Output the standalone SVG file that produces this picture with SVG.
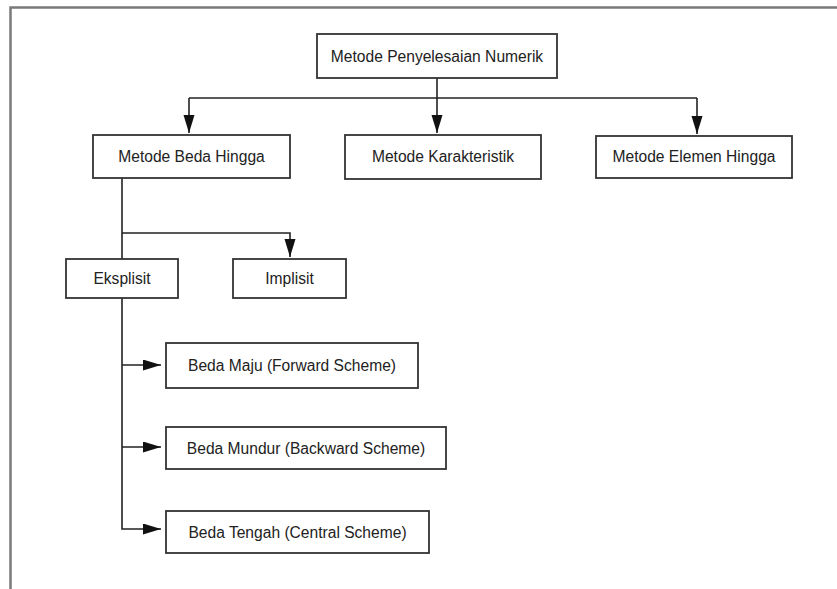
<svg xmlns="http://www.w3.org/2000/svg" width="837" height="589" viewBox="0 0 837 589">
<style>
.box{fill:#fff;stroke:#333;stroke-width:1.8}
.lbl{font-family:"Liberation Sans",Arial,sans-serif;font-size:15.6px;fill:#222;text-anchor:middle}
.con{fill:none;stroke:#222;stroke-width:1.6}
.frame{fill:none;stroke:#7a7a7a;stroke-width:2.5}
</style>
<defs>
<marker id="arr" markerUnits="userSpaceOnUse" markerWidth="19" markerHeight="12" refX="18" refY="5.5" orient="auto">
<path d="M0,0 L18,5.5 L0,11 z" fill="#111"/>
</marker>
</defs>
<rect width="837" height="589" fill="#fff"/>
<path class="frame" d="M10.5,589 L10.5,7.5 L837,7.5"/>
<g id="connectors">
<path class="con" d="M437,78 L437,133" marker-end="url(#arr)"/>
<path class="con" d="M189,98 L697,98"/>
<path class="con" d="M189,98 L189,133" marker-end="url(#arr)"/>
<path class="con" d="M697,98 L697,134" marker-end="url(#arr)"/>
<path class="con" d="M122,178 L122,259"/>
<path class="con" d="M122,233 L290,233 L290,257" marker-end="url(#arr)"/>
<path class="con" d="M122,298 L122,529 L161,529" marker-end="url(#arr)"/>
<path class="con" d="M122,365 L161,365" marker-end="url(#arr)"/>
<path class="con" d="M122,447 L161,447" marker-end="url(#arr)"/>
</g>
<g id="n-numerik"><rect class="box" x="317" y="34" width="240" height="44"/><text class="lbl" x="437" y="61.5">Metode Penyelesaian Numerik</text></g>
<g id="n-beda"><rect class="box" x="93" y="135" width="197" height="43"/><text class="lbl" x="191.5" y="162">Metode Beda Hingga</text></g>
<g id="n-karakteristik"><rect class="box" x="345" y="135" width="196" height="44"/><text class="lbl" x="443" y="162">Metode Karakteristik</text></g>
<g id="n-elemen"><rect class="box" x="596" y="136" width="196" height="42"/><text class="lbl" x="694" y="162">Metode Elemen Hingga</text></g>
<g id="n-eksplisit"><rect class="box" x="66" y="259" width="112" height="39"/><text class="lbl" x="122" y="284">Eksplisit</text></g>
<g id="n-implisit"><rect class="box" x="233" y="259" width="113" height="39"/><text class="lbl" x="289.5" y="284">Implisit</text></g>
<g id="n-maju"><rect class="box" x="166" y="343" width="252" height="45"/><text class="lbl" x="292" y="371">Beda Maju (Forward Scheme)</text></g>
<g id="n-mundur"><rect class="box" x="166" y="427" width="280" height="42"/><text class="lbl" x="306" y="453.5">Beda Mundur (Backward Scheme)</text></g>
<g id="n-tengah"><rect class="box" x="166" y="511" width="263" height="42"/><text class="lbl" x="297.5" y="537.5">Beda Tengah (Central Scheme)</text></g>
</svg>
